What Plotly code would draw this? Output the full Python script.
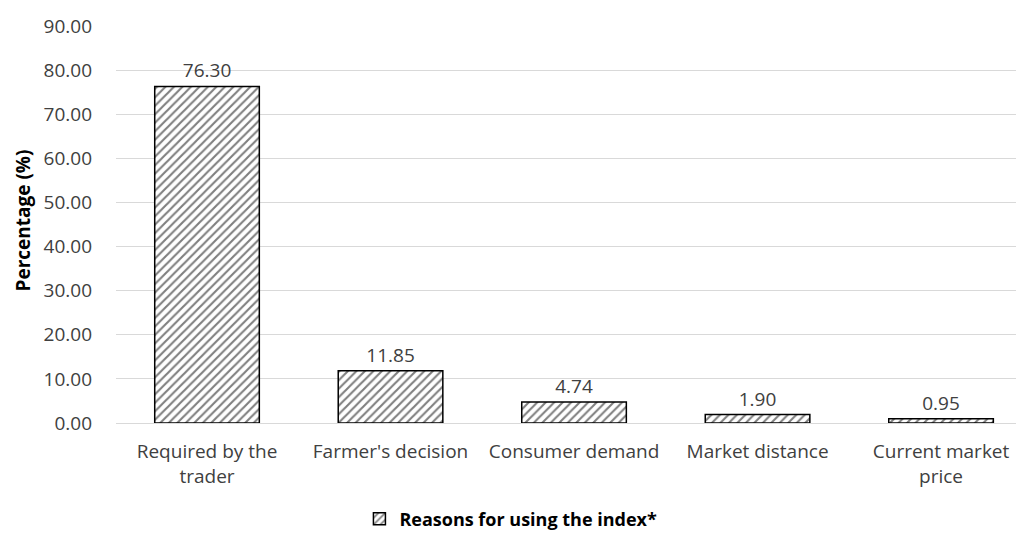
import plotly.graph_objects as go

categories = ["Required by the<br>trader", "Farmer's decision", "Consumer demand", "Market distance", "Current market<br>price"]
values = [76.30, 11.85, 4.74, 1.90, 0.95]
labels = ["76.30", "11.85", "4.74", "1.90", "0.95"]
series_name = "Reasons for using the index*"
y_title = "Percentage (%)"
y_ticks = [0, 10, 20, 30, 40, 50, 60, 70, 80, 90]

FONT = "'Open Sans', Lato, sans-serif"

fig = go.Figure()
fig.add_trace(go.Bar(
    x=list(range(len(categories))),
    y=values,
    name=series_name,
    width=0.57,
    text=labels,
    textposition="outside",
    textfont=dict(size=19, color="#404040", family=FONT),
    cliponaxis=False,
    marker=dict(
        color="white",
        line=dict(color="black", width=1.5),
        pattern=dict(shape="/", fgcolor="black", bgcolor="white", size=6, solidity=0.35),
    ),
    showlegend=True,
))

fig.update_layout(
    width=1016, height=535,
    margin=dict(l=108, r=0, t=18, b=120, autoexpand=False),
    paper_bgcolor="white", plot_bgcolor="white",
    font=dict(family=FONT, size=19, color="#404040"),
    showlegend=True,
    legend=dict(
        orientation="h", xref="container", x=0.495, xanchor="center",
        y=-0.242, yanchor="middle",
        font=dict(size=18, color="black", family=FONT, weight="bold"),
        itemwidth=30,
    ),
    xaxis=dict(
        tickmode="array", tickvals=list(range(len(categories))), ticktext=categories,
        range=[-0.496, 4.452], showgrid=False, showline=False, ticks="",
        ticklabelstandoff=15,
        tickfont=dict(size=19, color="#404040"), automargin=False,
    ),
    yaxis=dict(
        range=[0, 90], tickvals=y_ticks, tickformat=".2f",
        showgrid=True, gridcolor="#d9d9d9", gridwidth=1,
        zeroline=True, zerolinecolor="#d9d9d9", zerolinewidth=1,
        showline=False, ticks="", automargin=False,
        ticklabelstandoff=23,
        tickfont=dict(size=19, color="#404040"),
    ),
    annotations=[dict(
        text=y_title, textangle=-90, showarrow=False,
        xref="paper", yref="paper", x=0, y=0.5,
        xanchor="center", yanchor="middle", xshift=-94, yshift=4,
        font=dict(size=19, color="black", family=FONT, weight="bold"),
    )],
)

fig.write_html("out.html")
